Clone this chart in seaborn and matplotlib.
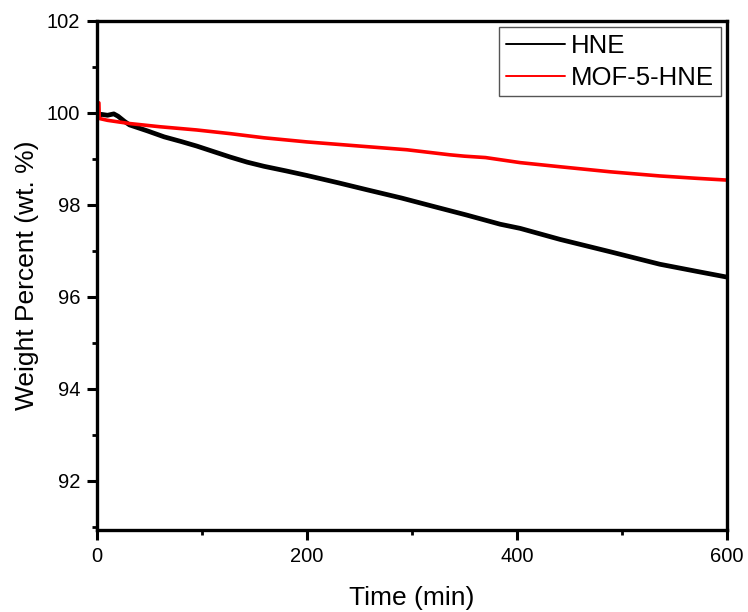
import matplotlib
matplotlib.use("Agg")
import matplotlib.pyplot as plt
from matplotlib.ticker import MultipleLocator
import seaborn as sns
import pandas as pd

# Isothermal weight-loss curves (time in minutes, weight in wt. %)
hne_time = [0, 4, 10, 16, 20, 26, 31, 48, 64, 80, 95, 111, 127, 143, 159,
            180, 200, 230, 257, 290, 320, 352, 384, 403, 441, 489, 536, 570, 600]
hne_weight = [99.90, 99.97, 99.95, 99.98, 99.93, 99.82, 99.74, 99.61, 99.48,
              99.38, 99.28, 99.16, 99.04, 98.93, 98.84, 98.74, 98.64, 98.48,
              98.33, 98.15, 97.97, 97.78, 97.58, 97.49, 97.25, 96.98, 96.71,
              96.56, 96.43]

mof_time = [0, 1.8, 2.2, 10, 31, 60, 95, 127, 159, 200, 250, 295, 336, 350,
            370, 403, 441, 489, 536, 570, 600]
mof_weight = [100.22, 100.22, 99.88, 99.84, 99.77, 99.70, 99.63, 99.55, 99.46,
              99.37, 99.28, 99.20, 99.09, 99.06, 99.03, 98.92, 98.83, 98.72,
              98.63, 98.58, 98.54]

series_names = ["HNE", "MOF-5-HNE"]
series_colors = ["#000000", "#ff0000"]

x_ticks = [0, 200, 400, 600]
y_ticks = [92, 94, 96, 98, 100, 102]

df = pd.concat([
    pd.DataFrame({"Time": hne_time, "Weight": hne_weight, "Sample": series_names[0]}),
    pd.DataFrame({"Time": mof_time, "Weight": mof_weight, "Sample": series_names[1]}),
], ignore_index=True)

sns.set_style("ticks")
plt.rcParams["font.family"] = ["Liberation Sans", "DejaVu Sans"]
plt.rcParams["text.color"] = "black"
plt.rcParams["axes.labelcolor"] = "black"

fig = plt.figure(figsize=(7.48, 6.12), dpi=100)
ax = fig.add_axes([97 / 748, 1 - 530 / 612, 630 / 748, 509 / 612])

sns.lineplot(data=df, x="Time", y="Weight", hue="Sample",
             palette=dict(zip(series_names, series_colors)),
             estimator=None, sort=False, ax=ax, linewidth=2.6)
for line, lw in zip(ax.lines, [3.4, 2.6]):
    line.set_linewidth(lw)

ax.set_xlim(0, 600)
ax.set_ylim(90.93, 102)
ax.set_xticks(x_ticks)
ax.set_yticks(y_ticks)
ax.xaxis.set_minor_locator(MultipleLocator(100))
ax.yaxis.set_minor_locator(MultipleLocator(1))

for side in ["left", "right", "top", "bottom"]:
    ax.spines[side].set_visible(True)
    ax.spines[side].set_linewidth(2.4)
    ax.spines[side].set_color("black")

ax.tick_params(which="major", direction="out", length=7, width=2.2,
               labelsize=14.5, colors="black", pad=5)
ax.tick_params(which="minor", direction="out", length=3.5, width=2.0,
               colors="black")

ax.set_xlabel("Time (min)", fontsize=19, labelpad=15)
ax.set_ylabel("Weight Percent (wt. %)", fontsize=19, labelpad=6)

leg = ax.legend(loc="upper right", fontsize=18.5, frameon=True, fancybox=False,
                edgecolor="#555555", framealpha=1, borderpad=0.25,
                labelspacing=0.3, handlelength=2.3, handletextpad=0.25,
                borderaxespad=0.25)
leg.get_frame().set_linewidth(1.0)
for h in leg.get_lines():
    h.set_linewidth(1.4)

fig.savefig("out.png", dpi=100)
